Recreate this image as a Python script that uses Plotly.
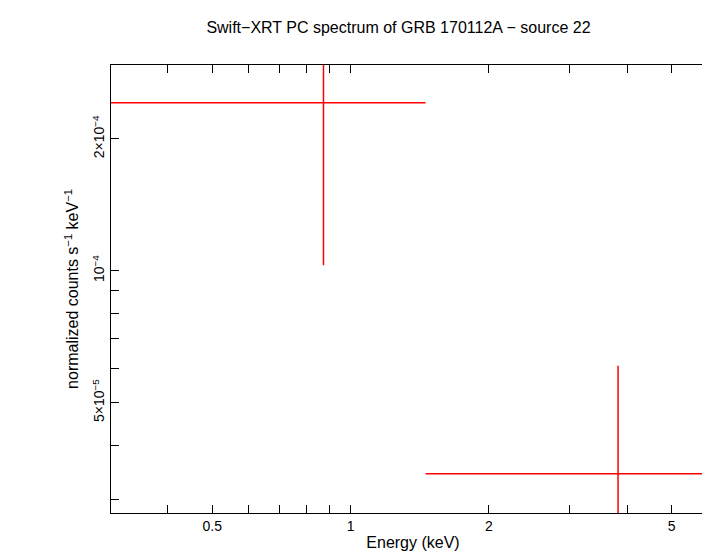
import numpy as np
import plotly.graph_objects as go

# spectrum bins
energy = [0.873, 3.82]
e_lo = [0.30, 1.456]
e_hi = [1.456, 10.0]
flux = [2.42e-4, 3.44e-5]
flux_err_up = [1.4e-4, 2.63e-5]
flux_err_dn = [1.39e-4, 2.63e-5]

x_major = [0.5, 1, 2, 5]
x_minor = [0.4, 0.6, 0.7, 0.8, 0.9, 3, 4, 6]
y_major = [5e-5, 1e-4, 2e-4]
y_major_text = ["5×10<sup>−5</sup>", "10<sup>−4</sup>", "2×10<sup>−4</sup>"]
y_minor = [3e-5, 4e-5, 6e-5, 7e-5, 8e-5, 9e-5]

fig = go.Figure()
fig.add_trace(go.Scatter(
    x=energy, y=flux, mode="markers",
    marker=dict(size=1, color="red"),
    error_x=dict(type="data", symmetric=False,
                 array=[h - c for h, c in zip(e_hi, energy)],
                 arrayminus=[c - l for c, l in zip(energy, e_lo)],
                 color="red", thickness=1.5, width=0),
    error_y=dict(type="data", symmetric=False, array=flux_err_up,
                 arrayminus=flux_err_dn, color="red", thickness=1.5, width=0),
    showlegend=False))

# minor ticks drawn as unlabeled tick values
axis_common = dict(type="log", showgrid=False, zeroline=False, showline=True,
                   linecolor="black", linewidth=1, mirror="allticks",
                   ticks="inside", ticklen=8, tickcolor="black", automargin=False,
                   tickfont=dict(family="Liberation Sans", size=14, color="black"))
fig.update_xaxes(**axis_common, range=[np.log10(0.301), np.log10(6.21)],
                 tickvals=x_major + x_minor,
                 ticktext=[str(v) for v in x_major] + [""] * len(x_minor),
                 title=dict(text="Energy (keV)", standoff=4,
                            font=dict(family="Liberation Sans", size=16, color="black")))
fig.update_yaxes(**axis_common, range=[np.log10(2.80e-5), np.log10(2.95e-4)],
                 tickvals=y_major + y_minor,
                 ticktext=y_major_text + [""] * len(y_minor),
                 tickangle=-90,
                 title=dict(text="normalized counts s<sup>−1</sup> keV<sup>−1</sup>",
                            standoff=6,
                            font=dict(family="Liberation Sans", size=16, color="black")))

fig.update_layout(
    width=710, height=556,
    margin=dict(l=103, r=3, t=57, b=51, pad=0),
    paper_bgcolor="white", plot_bgcolor="white",
    title=dict(text="Swift−XRT PC spectrum of GRB 170112A − source 22",
               x=0.55, xanchor="center", y=0.975,
               font=dict(family="Liberation Sans", size=16, color="black")),
)

fig.write_html("out.html")
